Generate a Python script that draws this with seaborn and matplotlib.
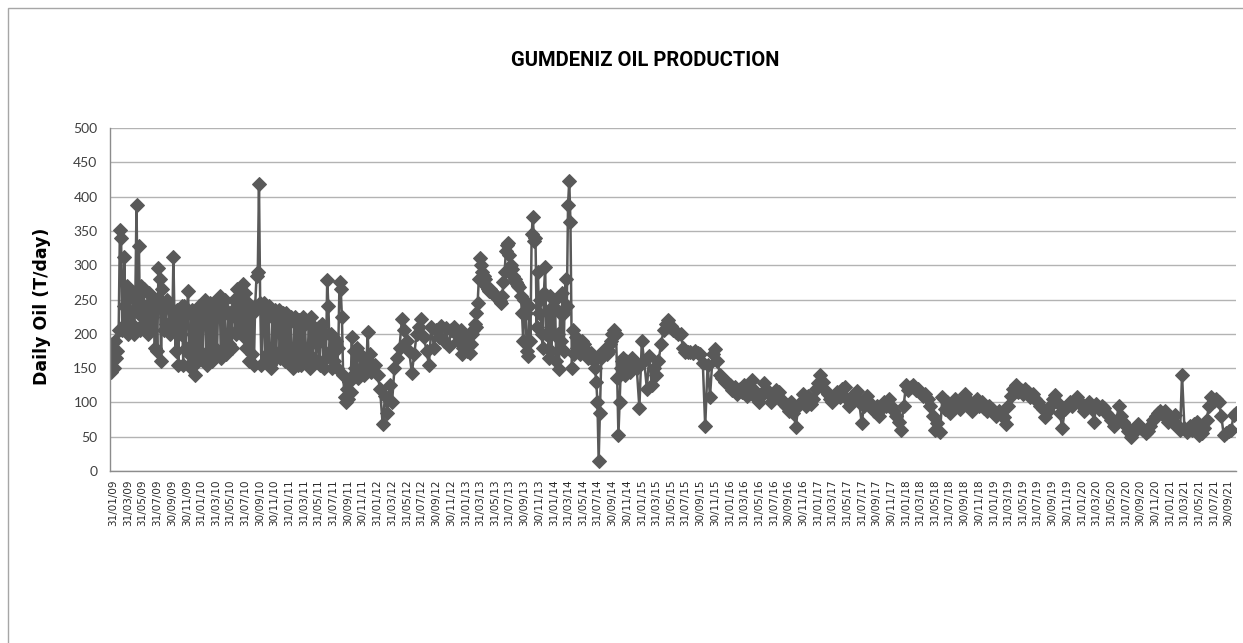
import pandas as pd
import matplotlib
matplotlib.use('Agg')
import matplotlib.pyplot as plt
import seaborn as sns
from matplotlib.patches import Rectangle

# daily oil rate (T/day), one list per year.
# the noisy years carry six readings a month, the calmer ones three.
oil_2009 = [185, 145, 170, 150, 190, 165, 175, 205, 352, 340, 205, 240,
            312, 215, 270, 200, 265, 230, 215, 260, 200, 250, 388, 230,
            328, 205, 270, 215, 265, 205, 240, 200, 260, 210, 255, 225,
            235, 180, 250, 175, 296, 280, 160, 265, 205, 240, 215, 250,
            240, 200, 235, 205, 312, 210, 175, 235, 155, 225, 200, 240,
            155, 240, 180, 230, 263, 170, 150, 235, 160, 225, 140, 210]
oil_2010 = [160, 240, 175, 235, 165, 230, 250, 155, 235, 170, 245, 160,
            160, 245, 180, 235, 170, 250, 255, 165, 240, 175, 250, 170,
            175, 230, 185, 225, 180, 235, 250, 200, 265, 205, 255, 210,
            220, 272, 195, 260, 180, 245, 160, 235, 170, 230, 155, 240,
            285, 290, 418, 245, 155, 235, 245, 160, 230, 170, 240, 155,
            150, 225, 175, 235, 165, 220, 235, 165, 220, 170, 230, 160]
oil_2011 = [230, 160, 215, 170, 225, 165, 150, 225, 165, 215, 155, 220,
            210, 155, 225, 165, 215, 160, 170, 215, 150, 225, 165, 210,
            200, 160, 185, 210, 155, 205, 215, 150, 200, 165, 278, 240,
            175, 200, 150, 195, 160, 190, 150, 180, 275, 265, 225, 140,
            108, 100, 120, 105, 130, 115, 195, 140, 175, 150, 180, 135,
            145, 170, 150, 165, 140, 160, 160, 202, 150, 170, 145, 155]
oil_2012 = [155, 140, 120, 68, 110, 85, 125, 100, 150, 165, 180, 222,
            205, 190, 175, 143, 170, 200, 210, 222, 195, 175, 155, 210,
            180, 205, 195, 212, 190, 208, 182, 205, 210, 200, 190, 205]
oil_2013 = [170, 180, 195, 185, 175, 185, 172, 185, 200, 205, 215, 210,
            230, 245, 280, 310, 300, 290, 285, 280, 270, 265, 262, 265,
            262, 260, 258, 256, 255, 254, 250, 248, 245, 255, 275, 290,
            320, 330, 333, 315, 300, 295, 285, 280, 275, 272, 270, 268,
            255, 230, 190, 250, 230, 175, 168, 240, 190, 345, 370, 335,
            340, 210, 290, 230, 250, 200, 180, 260, 298, 200, 230, 165]
oil_2014 = [255, 175, 240, 200, 250, 160, 200, 148, 230, 190, 260, 175,
            230, 280, 240, 388, 423, 363, 150, 205, 170, 195, 180, 190,
            180, 170, 190, 175, 185, 170, 175, 165, 170, 168, 172, 165,
            160, 150, 130, 100, 15, 85, 165, 175, 170, 172, 175, 170,
            175, 185, 190, 200, 205, 200, 200, 135, 52, 100, 150, 160,
            165, 140, 160, 150, 155, 145, 150, 165, 158, 160, 155, 150]
oil_2015 = [92, 190, 160, 120, 168, 125, 150, 140, 160, 185, 205, 215,
            220, 212, 205, 202, 200, 200, 180, 174, 173, 174, 172, 175,
            172, 170, 158, 65, 155, 108, 170, 178, 160, 140, 135, 130]
oil_2016 = [130, 125, 118, 122, 112, 120, 115, 125, 110, 112, 133, 118,
            105, 100, 110, 128, 120, 112, 100, 108, 118, 115, 105, 98,
            95, 88, 100, 85, 64, 95, 100, 112, 95, 110, 98, 105]
oil_2017 = [120, 128, 140, 130, 118, 112, 105, 100, 110, 115, 108, 120,
            122, 105, 95, 105, 112, 117, 100, 70, 95, 110, 100, 92,
            88, 95, 80, 90, 100, 95, 105, 95, 88, 80, 72, 60]
oil_2018 = [95, 125, 118, 122, 125, 118, 120, 115, 110, 112, 105, 95,
            80, 60, 70, 57, 108, 90, 100, 85, 95, 105, 98, 90,
            100, 112, 105, 95, 88, 100, 105, 95, 100, 92, 88, 95]
oil_2019 = [90, 85, 80, 88, 82, 78, 68, 95, 110, 120, 125, 115,
            118, 112, 120, 115, 108, 112, 105, 100, 95, 90, 78, 88,
            95, 105, 111, 100, 85, 62, 90, 95, 100, 95, 100, 108]
oil_2020 = [100, 95, 88, 95, 100, 90, 72, 98, 90, 95, 92, 85,
            80, 75, 65, 70, 95, 80, 72, 65, 58, 50, 55, 60,
            68, 62, 60, 55, 58, 65, 75, 80, 85, 88, 82, 88]
oil_2021 = [72, 78, 70, 82, 65, 60, 140, 62, 57, 65, 60, 68,
            72, 52, 55, 62, 75, 95, 108, 102, 105, 100, 80, 52,
            55, 58, 60, 82, 85]

yearly = {2009: oil_2009, 2010: oil_2010, 2011: oil_2011, 2012: oil_2012,
          2013: oil_2013, 2014: oil_2014, 2015: oil_2015, 2016: oil_2016,
          2017: oil_2017, 2018: oil_2018, 2019: oil_2019, 2020: oil_2020,
          2021: oil_2021}


def reading_dates(year, n):
    """Spread a year's readings over its months (6 or 3 per month)."""
    per = 6 if n >= 72 else 3
    offsets = [15, 20, 25, 30, 35, 40] if per == 6 else [20, 30, 40]
    months = pd.date_range(f'{year}-01-01', periods=-(-n // per), freq='MS')
    return [m + pd.Timedelta(days=d) for m in months for d in offsets][:n]


frames = [pd.DataFrame({'date': reading_dates(y, len(v)), 'oil': v}) for y, v in yearly.items()]
df = pd.concat(frames, ignore_index=True)

tick_dates = pd.date_range('2009-01-31', '2021-09-30', freq=pd.offsets.MonthEnd(2))
tick_labels = [d.strftime('%d/%m/%y') for d in tick_dates]

sns.set_style('white')

fig = plt.figure(figsize=(12.43, 6.43), dpi=100)
ax = fig.add_axes([0.0885, 0.2675, 0.9059, 0.5334])

sns.lineplot(data=df, x='date', y='oil', ax=ax, estimator=None, sort=False,
             color='#595959', linewidth=1.8, marker='D', markersize=7.5,
             markeredgecolor='#595959', markerfacecolor='#595959')

ax.set_ylim(0, 500)
ax.set_yticks(range(0, 501, 50))
ax.set_xlim(df['date'].min(), df['date'].max())
ax.set_xticks(tick_dates)
ax.set_xticklabels(tick_labels, rotation=90, fontsize=7.5, color='#262626',
                   family='DejaVu Sans')
for lbl in ax.get_yticklabels():
    lbl.set_fontfamily('Lato')
    lbl.set_fontsize(10)
    lbl.set_color('#404040')

ax.yaxis.grid(True, color='#b3b3b3', linewidth=1)
ax.xaxis.grid(False)
ax.set_axisbelow(True)
for side in ['top', 'right']:
    ax.spines[side].set_visible(False)
for side in ['left', 'bottom']:
    ax.spines[side].set_color('#8c8c8c')
    ax.spines[side].set_linewidth(1)
ax.tick_params(axis='both', direction='out', length=4, width=1, color='#8c8c8c')
ax.tick_params(axis='x', pad=2)
ax.tick_params(axis='y', pad=5)
ax.set_xlabel('')
ax.set_ylabel('')

fig.text(645 / 1243, 1 - 60 / 643, 'GUMDENIZ OIL PRODUCTION', ha='center', va='center',
         fontsize=14.5, fontweight='bold', family='Roboto', color='black')
fig.text(42 / 1243, 1 - 306 / 643, 'Daily Oil (T/day)', ha='center', va='center',
         rotation=90, fontsize=12.5, fontweight='bold', family='DejaVu Sans', color='black')

fig.patches.append(Rectangle((8 / 1243, -0.05), 1.1, 1.05 - 8 / 643, transform=fig.transFigure,
                             fill=False, edgecolor='#a6a6a6', linewidth=1))

fig.savefig('out.png', dpi=100)
